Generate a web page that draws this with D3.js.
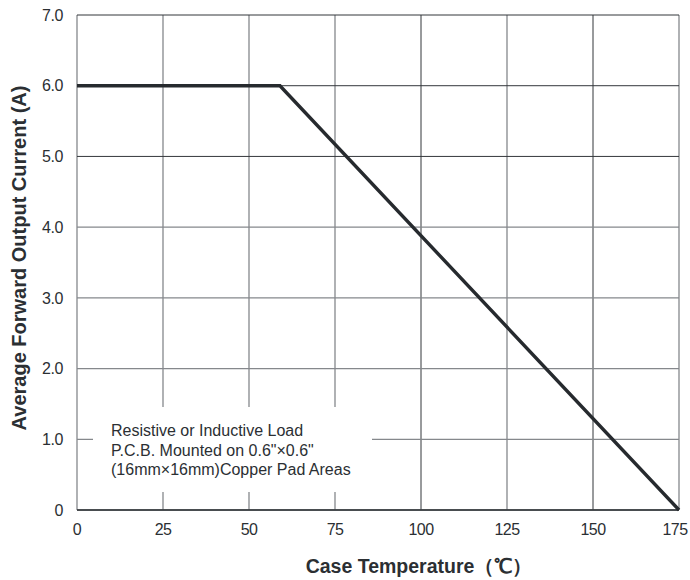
<!DOCTYPE html>
<html>
<head>
<meta charset="utf-8">
<script src="https://cdn.jsdelivr.net/npm/d3@7"></script>
<style>
  html, body { margin: 0; padding: 0; background: #fff; }
  text { font-family: "Liberation Sans", Arial, sans-serif; fill: #2b2f33; }
</style>
</head>
<body>
<svg id="chart" width="690" height="580"></svg>
<script>
// ---- data ----
const xTicks = [0, 25, 50, 75, 100, 125, 150, 175];
const yTicks = [0, 1, 2, 3, 4, 5, 6, 7];
const yTickLabels = ["0", "1.0", "2.0", "3.0", "4.0", "5.0", "6.0", "7.0"];
const curveTemp = [0, 59, 175];
const curveCurrent = [6.0, 6.0, 0];
const noteLines = [
  "Resistive or Inductive Load",
  "P.C.B. Mounted on 0.6\"\u00d70.6\"",
  "(16mm\u00d716mm)Copper Pad Areas"
];
const xTitle = "Case Temperature\uff08\u2103\uff09";
const yTitle = "Average Forward Output Current (A)";

// ---- layout ----
const svg = d3.select("#chart");
const mLeft = 77, mRight = 679, mTop = 15, mBottom = 510;
const x = d3.scaleLinear().domain([0, 175]).range([mLeft, mRight]);
const y = d3.scaleLinear().domain([0, 7]).range([mBottom, mTop]);

svg.append("rect").attr("width", 690).attr("height", 580).attr("fill", "#fff");

// grid
const darkV = new Set([100, 150]);
svg.append("g").selectAll("line").data(xTicks).join("line")
  .attr("x1", d => x(d)).attr("x2", d => x(d))
  .attr("y1", y(7)).attr("y2", y(0))
  .attr("stroke", d => darkV.has(d) ? "#33373b" : "#85888c")
  .attr("stroke-width", d => darkV.has(d) ? 1 : 1.3);
svg.append("g").selectAll("line").data(yTicks).join("line")
  .attr("x1", x(0)).attr("x2", x(175))
  .attr("y1", d => y(d)).attr("y2", d => y(d))
  .attr("stroke", d => d >= 5 ? "#33373b" : "#85888c")
  .attr("stroke-width", d => d >= 5 ? 1 : 1.3);

// bottom axis line
svg.append("line").attr("x1", x(0)).attr("x2", x(175)).attr("y1", y(0)).attr("y2", y(0))
  .attr("stroke", "#2b2f33").attr("stroke-width", 1.4);

// note box (white background covering grid)
svg.append("rect").attr("x", 93).attr("y", 407).attr("width", 279).attr("height", 85).attr("fill", "#fff");
svg.append("g").selectAll("text").data(noteLines).join("text")
  .attr("x", 111).attr("y", (d, i) => 436 + i * 19.5)
  .attr("font-size", 16)
  .text(d => d);

// curve
const pts = curveTemp.map((t, i) => [t, curveCurrent[i]]);
svg.append("path")
  .datum(pts)
  .attr("d", d3.line().x(d => x(d[0])).y(d => y(d[1])))
  .attr("fill", "none").attr("stroke", "#262a2e").attr("stroke-width", 3.4)
  .attr("stroke-linejoin", "miter");

// tick labels
svg.append("g").selectAll("text").data(xTicks).join("text")
  .attr("x", d => x(d) - (d === 175 ? 4 : 0)).attr("y", 535)
  .attr("text-anchor", "middle").attr("font-size", 16).style("letter-spacing", "-0.6px")
  .text(d => d);
svg.append("g").selectAll("text").data(yTicks).join("text")
  .attr("x", 63).attr("y", d => y(d)).attr("dy", "0.36em")
  .attr("text-anchor", "end").attr("font-size", 16).style("letter-spacing", "-0.4px")
  .text((d, i) => yTickLabels[i]);

// titles
svg.append("text").attr("x", 419).attr("y", 573)
  .attr("text-anchor", "middle").attr("font-size", 19.5).attr("font-weight", "bold")
  .text(xTitle);
svg.append("text")
  .attr("transform", "translate(26,258) rotate(-90)")
  .attr("text-anchor", "middle").attr("font-size", 20).attr("font-weight", "bold")
  .text(yTitle);
</script>
</body>
</html>
